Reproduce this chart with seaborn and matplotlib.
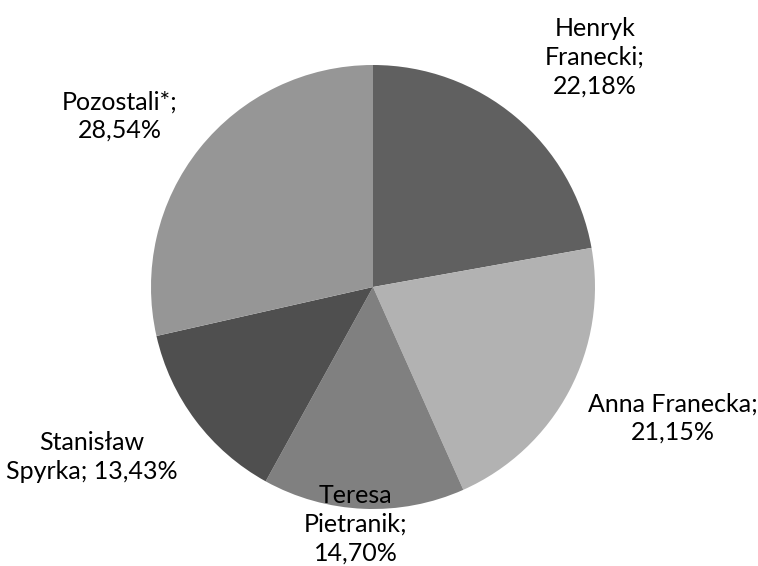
import matplotlib
matplotlib.use("Agg")
import matplotlib.pyplot as plt
import seaborn as sns

sns.set_theme(style="white")
plt.rcParams['font.family'] = ['Lato', 'DejaVu Sans']

# data
names = ["Henryk\nFranecki", "Anna Franecka", "Teresa\nPietranik", "Stanisław\nSpyrka", "Pozostali*"]
shares = [22.18, 21.15, 14.70, 13.43, 28.54]
colors = ["#606060", "#b2b2b2", "#808080", "#4f4f4f", "#969696"]

# label placement (data coords, pie radius = 1)
label_pos = [(1.0, 1.035), (1.351, -0.59), (-0.077, -1.068), (-1.266, -0.766), (-1.14, 0.77)]
seps = [";\n", ";\n", ";\n", "; ", ";\n"]

# pie centre (373, 287) px, radius 222 px
fig = plt.figure(figsize=(7.58, 5.66), dpi=100)
ax = fig.add_axes([151 / 758, 57 / 566, 444 / 758, 444 / 566])

ax.pie(shares, colors=colors, startangle=90, counterclock=False,
       radius=1, wedgeprops=dict(linewidth=0))

for name, val, sep, (x, y) in zip(names, shares, seps, label_pos):
    txt = name + sep + f"{val:.2f}%".replace(".", ",")
    ax.text(x, y, txt, ha="center", va="center", fontsize=18,
            color="#000000", linespacing=1.3, clip_on=False)

ax.set_xlim(-1, 1)
ax.set_ylim(-1, 1)
ax.set_aspect("equal")
ax.axis("off")

fig.savefig("out.png", dpi=100)
